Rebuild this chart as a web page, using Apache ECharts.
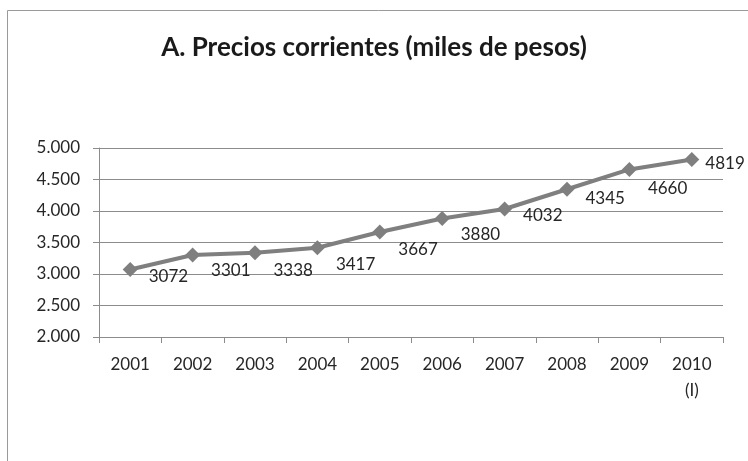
<!DOCTYPE html>
<html><head><meta charset="utf-8">
<script src="https://cdn.jsdelivr.net/npm/echarts@6/dist/echarts.min.js"></script>
<style>html,body{margin:0;padding:0;background:#fff}#c{width:748px;height:461px}</style>
</head><body><div id="c"></div>
<script>
var categories = ['2001','2002','2003','2004','2005','2006','2007','2008','2009','2010\n(I)'];
var values = [3072, 3301, 3338, 3417, 3667, 3880, 4032, 4345, 4660, 4819];
var yTicks = {min: 2000, max: 5000, interval: 500};
var titleText = 'A. Precios corrientes (miles de pesos)';
// shift of each data label relative to its default place (style only)
var labelShiftX = [0, 0, 0, 0, 0, 0, 0, 0, 0, -5];
var labelShiftY = [7, 15, 18, 17, 18, 16, 7, 9, 19, 4];

var chart = echarts.init(document.getElementById('c'), null, {renderer: 'canvas'});
var font = 'Lato, "Open Sans", sans-serif';
chart.setOption({
  animation: false,
  backgroundColor: '#fff',
  graphic: [{type: 'rect', left: 5, top: 8, shape: {width: 800, height: 500},
    style: {fill: 'none', stroke: '#9a9a9a', lineWidth: 1}, silent: true}],
  title: {text: titleText, left: 'center', top: 30,
    textStyle: {fontFamily: font, fontWeight: 'bold', fontSize: 26, color: '#1a1a1a'}},
  grid: {left: 99, right: 25, top: 148, bottom: 124},
  xAxis: {type: 'category', data: categories, boundaryGap: true,
    axisLine: {lineStyle: {color: '#8c8c8c', width: 1}},
    axisTick: {show: true, length: 6, lineStyle: {color: '#8c8c8c'}},
    axisLabel: {fontFamily: font, fontSize: 17, color: '#262626', margin: 15, lineHeight: 26}},
  yAxis: {type: 'value', min: yTicks.min, max: yTicks.max, interval: yTicks.interval,
    axisLine: {show: true, lineStyle: {color: '#8c8c8c'}},
    axisTick: {show: true, length: 6, lineStyle: {color: '#8c8c8c'}},
    splitLine: {lineStyle: {color: '#8c8c8c', width: 1}},
    axisLabel: {fontFamily: font, fontSize: 17, color: '#262626', margin: 19,
      formatter: function (v) { return (v / 1000).toFixed(3); }}},
  series: [{type: 'line',
    data: values.map(function (v, i) {
      return {value: v, label: {offset: [labelShiftX[i], labelShiftY[i]]}};
    }),
    symbol: 'diamond', symbolSize: 15,
    lineStyle: {color: '#7f7f7f', width: 4},
    itemStyle: {color: '#7f7f7f'},
    label: {show: true, position: 'right', distance: 11, fontFamily: font, fontSize: 17, color: '#262626'}
  }]
});
</script></body></html>
